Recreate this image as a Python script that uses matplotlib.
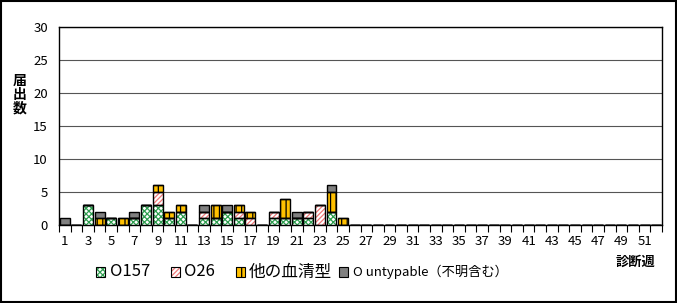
import numpy as np
import matplotlib
matplotlib.use("Agg")
import matplotlib.pyplot as plt
from matplotlib.patches import Rectangle

plt.rcParams['font.family'] = ['Noto Sans CJK JP', 'DejaVu Sans']
plt.rcParams['hatch.linewidth'] = 0.9

# data: weeks 1..52
weeks = np.arange(1, 53)
o157 = np.zeros(52)
o26 = np.zeros(52)
other = np.zeros(52)
untyp = np.zeros(52)

o157_vals = {3: 3, 5: 1, 7: 1, 8: 3, 9: 3, 10: 1, 11: 2, 13: 1, 14: 1, 15: 2, 16: 1,
             19: 1, 20: 1, 21: 1, 22: 1, 24: 2}
o26_vals = {9: 2, 13: 1, 16: 1, 17: 1, 19: 1, 22: 1, 23: 3}
other_vals = {4: 1, 6: 1, 9: 1, 10: 1, 11: 1, 14: 2, 16: 1, 17: 1, 20: 3, 24: 3, 25: 1}
untyp_vals = {1: 1, 4: 1, 7: 1, 13: 1, 15: 1, 21: 1, 24: 1}
for d, arr in [(o157_vals, o157), (o26_vals, o26), (other_vals, other), (untyp_vals, untyp)]:
    for k, v in d.items():
        arr[k - 1] = v

labels = ["O157", "O26", "他の血清型", "O untypable（不明含む）"]
# (face, hatch, hatch colour)
styles = [("white", "xxxxxx", "#2E9E4F"),
          ("white", "///////", "#F07878"),
          ("#FFC000", "|||", "black"),
          ("#808080", "", "#808080")]

fig = plt.figure(figsize=(6.77, 3.03), dpi=100)
ax = fig.add_axes([59 / 677, 1 - 225 / 303, 603 / 677, 198 / 303])

bottom = np.zeros(52)
for vals, (fc, hatch, hc) in zip([o157, o26, other, untyp], styles):
    ax.bar(weeks, vals, width=0.86, bottom=bottom, color=fc, hatch=hatch,
           edgecolor=hc, linewidth=0, zorder=3)
    ax.bar(weeks, vals, width=0.86, bottom=bottom, fill=False,
           edgecolor="black", linewidth=1.0, zorder=4)
    bottom = bottom + vals

ax.set_xlim(0.5, 52.5)
ax.set_ylim(0, 30)
ax.set_yticks(np.arange(0, 31, 5))
ax.set_xticks(np.arange(1, 52, 2))
ax.set_xticks(np.arange(0.5, 53, 1), minor=True)
ax.tick_params(axis='x', which='major', length=0, labelsize=9.5, pad=7)
ax.tick_params(axis='x', which='minor', length=5, width=0.8, direction='out')
ax.tick_params(axis='y', length=0, labelsize=9.5, pad=8)
ax.grid(axis='y', color='#555555', linewidth=0.8, zorder=0)
for s in ax.spines.values():
    s.set_color('black')
    s.set_linewidth(1.0)

fig.text(20 / 677, 1 - 95 / 303, "届\n出\n数", ha='center', va='center',
         fontsize=10, fontweight='bold', linespacing=1.0)
fig.text(635 / 677, 1 - 262 / 303, "診断週", ha='center', va='center',
         fontsize=9.5, fontweight='bold')

# legend drawn by hand
leg_x = [96, 171, 236, 339]
text_x = [110, 184, 249, 353]
sizes = [12, 12, 12, 9.5]
ly = 272
for (fc, hatch, hc), lx, tx, lab, fs in zip(styles, leg_x, text_x, labels, sizes):
    fig.patches.append(Rectangle((lx / 677, 1 - (ly + 5) / 303), 9 / 677, 10 / 303,
                                 transform=fig.transFigure, facecolor=fc,
                                 hatch=hatch, edgecolor=hc, linewidth=0))
    fig.patches.append(Rectangle((lx / 677, 1 - (ly + 5) / 303), 9 / 677, 10 / 303,
                                 transform=fig.transFigure, fill=False,
                                 edgecolor='black', linewidth=0.8))
    fig.text(tx / 677, 1 - ly / 303, lab, ha='left', va='center', fontsize=fs)

fig.patches.append(Rectangle((0.001, 0.002), 0.997, 0.995, transform=fig.transFigure,
                             fill=False, edgecolor='black', linewidth=1.5))

fig.savefig("out.png", dpi=100)
